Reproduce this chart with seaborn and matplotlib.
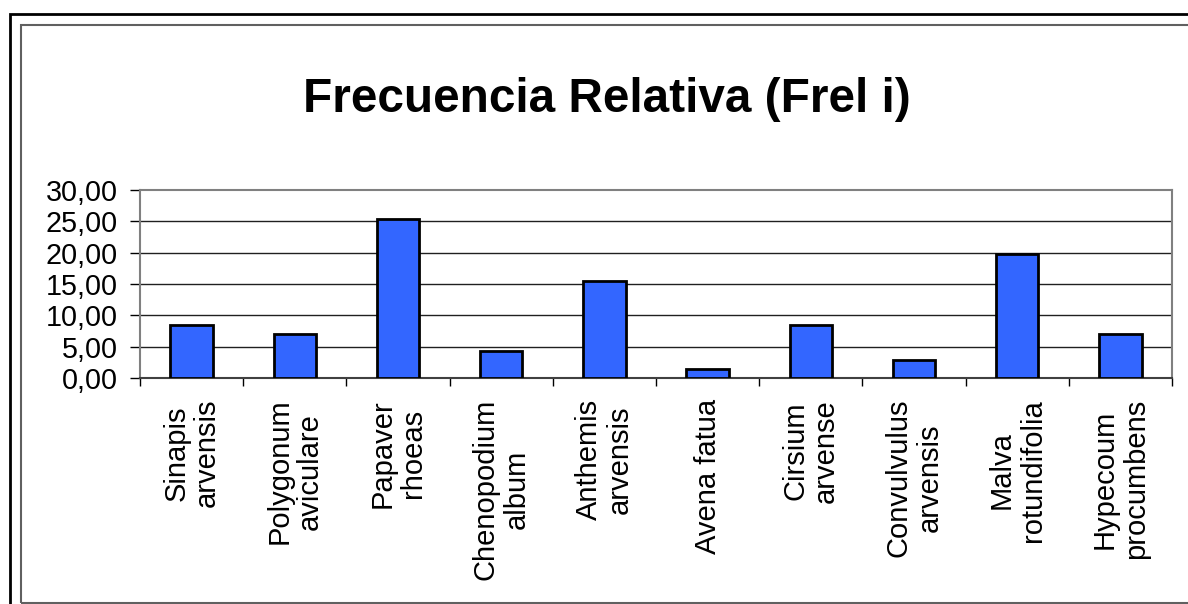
import pandas as pd
import seaborn as sns
import matplotlib.pyplot as plt
from matplotlib.patches import Rectangle

especies = ["Sinapis\narvensis", "Polygonum\naviculare", "Papaver\nrhoeas",
            "Chenopodium\nalbum", "Anthemis\narvensis", "Avena fatua",
            "Cirsium\narvense", "Convulvulus\narvensis", "Malva\nrotundifolia",
            "Hypecoum\nprocumbens"]
frel = [8.45, 7.04, 25.35, 4.23, 15.49, 1.41, 8.45, 2.82, 19.72, 7.04]
yticks = [0, 5, 10, 15, 20, 25, 30]

df = pd.DataFrame({"especie": especies, "frel": frel})

sns.set_style("white")
plt.rcParams["font.family"] = ["Liberation Sans", "DejaVu Sans"]
plt.rcParams["text.color"] = "black"
plt.rcParams["xtick.color"] = "black"
plt.rcParams["ytick.color"] = "black"

fig = plt.figure(figsize=(11.88, 6.04), dpi=100)
ax = fig.add_axes([140 / 1188, 1 - 378 / 604, 1032 / 1188, 188 / 604])

sns.barplot(data=df, x="especie", y="frel", ax=ax, color="#3366FF",
            saturation=1, width=0.41, edgecolor="black", linewidth=2, zorder=3)

ax.set_xlim(-0.5, len(especies) - 0.5)
ax.set_ylim(0, 30)
ax.set_yticks(yticks)
ax.set_yticklabels([f"{v:.2f}".replace(".", ",") for v in yticks], fontsize=20.7)
ax.set_xlabel("")
ax.set_ylabel("")

# gridlines
for v in yticks[1:-1]:
    ax.axhline(v, color="#202020", lw=1, zorder=1)

# category labels, ticks between categories
ax.set_xticks(range(len(especies)))
ax.set_xticklabels(especies, rotation=90, fontsize=21, ha="center", va="top",
                   multialignment="center", linespacing=1.12)
ax.set_xticks([i - 0.5 for i in range(len(especies) + 1)], minor=True)
ax.tick_params(axis="x", which="major", length=0, pad=15)
ax.tick_params(axis="x", which="minor", length=6, width=1, color="black",
               direction="out", bottom=True)
ax.tick_params(axis="y", length=7, width=1, color="black", direction="out",
               left=True, pad=9)

for s in ax.spines.values():
    s.set_color("#808080")
    s.set_linewidth(1.5)
ax.spines["bottom"].set_color("#404040")

fig.text(607 / 1188, 1 - 100 / 604, "Frecuencia Relativa (Frel i)",
         ha="center", va="center", fontsize=34.4, fontweight="bold")

# chart borders
fig.patches.append(Rectangle((10 / 1188, -0.1), 1.2, 1 - 14 / 604 + 0.1,
                             transform=fig.transFigure, fill=False,
                             edgecolor="black", lw=2))
fig.patches.append(Rectangle((20.5 / 1188, 1 / 604), 1.2, 1 - 25.5 / 604,
                             transform=fig.transFigure, fill=False,
                             edgecolor="#606060", lw=1.5))

fig.savefig("out.png", dpi=100)
